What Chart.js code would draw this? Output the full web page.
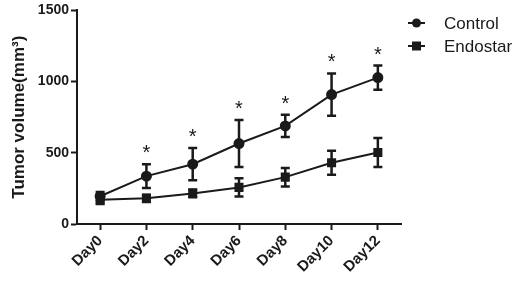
<!DOCTYPE html>
<html lang="en">
<head>
    <meta charset="UTF-8">
    <title>Tumor volume</title>
    <script src="https://cdn.jsdelivr.net/npm/chart.js"></script>
    <style>
        html, body { margin: 0; padding: 0; background: #fff; }
        #wrap { width: 517px; height: 283px; }
    </style>
</head>
<body>
    <div id="wrap"><canvas id="tumorChart" width="517" height="283"></canvas></div>

    <script>
        // values
        const days = ["Day0", "Day2", "Day4", "Day6", "Day8", "Day10", "Day12"];
        const controlMean = [195, 336, 420, 565, 689, 909, 1028];
        const controlErr = [30, 84, 113, 165, 78, 148, 85];
        const endostarMean = [170, 180, 215, 257, 329, 430, 502];
        const endostarErr = [30, 25, 27, 64, 65, 85, 102];
        const significant = [false, true, true, true, true, true, true];
        const yTicks = [0, 500, 1000, 1500];

        const ink = "#1a1a1a";
        const fontFam = "'Liberation Sans', Arial, sans-serif";

        // error bars (drawn under the markers) + asterisks
        const errorBars = {
            id: "errorBars",
            beforeDatasetsDraw(chart) {
                const ctx = chart.ctx;
                const y = chart.scales.y;
                chart.data.datasets.forEach((ds, i) => {
                    const meta = chart.getDatasetMeta(i);
                    meta.data.forEach((pt, j) => {
                        const m = ds.data[j], e = ds.errors[j];
                        const top = y.getPixelForValue(m + e);
                        const bot = y.getPixelForValue(m - e);
                        ctx.save();
                        ctx.strokeStyle = ink;
                        ctx.lineWidth = 2.5;
                        ctx.beginPath();
                        ctx.moveTo(pt.x, top); ctx.lineTo(pt.x, bot);
                        ctx.moveTo(pt.x - 4.5, top); ctx.lineTo(pt.x + 4.5, top);
                        ctx.moveTo(pt.x - 4.5, bot); ctx.lineTo(pt.x + 4.5, bot);
                        ctx.stroke();
                        ctx.restore();
                    });
                });
            },
            afterDatasetsDraw(chart) {
                const ctx = chart.ctx;
                const y = chart.scales.y;
                const meta = chart.getDatasetMeta(0);
                ctx.save();
                ctx.fillStyle = ink;
                ctx.font = "20px " + fontFam;
                ctx.textAlign = "center";
                ctx.textBaseline = "alphabetic";
                significant.forEach((s, j) => {
                    if (!s) return;
                    const top = y.getPixelForValue(controlMean[j] + controlErr[j]);
                    ctx.fillText("*", meta.data[j].x, top - 5);
                });
                ctx.restore();
            }
        };

        // legend with line through the marker, like the original
        const sideLegend = {
            id: "sideLegend",
            afterDraw(chart) {
                const ctx = chart.ctx;
                const items = [
                    { label: "Control", style: "circle", y: 23 },
                    { label: "Endostar", style: "rect", y: 46 }
                ];
                ctx.save();
                items.forEach(it => {
                    ctx.strokeStyle = ink;
                    ctx.fillStyle = ink;
                    ctx.lineWidth = 2;
                    ctx.beginPath();
                    ctx.moveTo(408, it.y); ctx.lineTo(425, it.y);
                    ctx.stroke();
                    if (it.style === "circle") {
                        ctx.beginPath();
                        ctx.arc(416.5, it.y, 4.5, 0, Math.PI * 2);
                        ctx.fill();
                    } else {
                        ctx.fillRect(412, it.y - 4.5, 9, 9);
                    }
                    ctx.font = "17px " + fontFam;
                    ctx.textBaseline = "middle";
                    ctx.fillText(it.label, 444, it.y + 1);
                });
                ctx.restore();
            }
        };

        new Chart(document.getElementById("tumorChart"), {
            type: "line",
            data: {
                labels: days,
                datasets: [
                    {
                        label: "Control",
                        data: controlMean,
                        errors: controlErr,
                        borderColor: ink,
                        backgroundColor: ink,
                        borderWidth: 2,
                        pointStyle: "circle",
                        pointRadius: 4.5,
                        tension: 0
                    },
                    {
                        label: "Endostar",
                        data: endostarMean,
                        errors: endostarErr,
                        borderColor: ink,
                        backgroundColor: ink,
                        borderWidth: 2,
                        pointStyle: "rect",
                        pointRadius: 5,
                        tension: 0
                    }
                ]
            },
            options: {
                responsive: false,
                animation: false,
                layout: { padding: { top: 10, right: 116, left: 0, bottom: 0 } },
                plugins: {
                    legend: { display: false },
                    tooltip: { enabled: false }
                },
                scales: {
                    x: {
                        type: "category",
                        offset: true,
                        afterFit: s => { s.height = 59; },
                        grid: {
                            offset: false,
                            drawOnChartArea: false,
                            color: ink,
                            tickLength: 6,
                            tickWidth: 2
                        },
                        border: { color: ink, width: 2 },
                        ticks: {
                            color: ink,
                            minRotation: 45,
                            maxRotation: 45,
                            padding: 2,
                            font: { family: fontFam, size: 15, weight: "bold" }
                        }
                    },
                    y: {
                        min: 0,
                        max: 1500,
                        afterFit: s => { s.width = 77; },
                        afterBuildTicks: s => { s.ticks = yTicks.map(v => ({ value: v })); },
                        grid: {
                            drawOnChartArea: false,
                            color: ink,
                            tickLength: 6,
                            tickWidth: 2
                        },
                        border: { color: ink, width: 2 },
                        ticks: {
                            color: ink,
                            padding: 2,
                            callback: v => String(v),
                            font: { family: fontFam, size: 14, weight: "bold" }
                        },
                        title: {
                            display: true,
                            text: "Tumor volume(mm³)",
                            color: ink,
                            padding: { top: 9, bottom: 0 },
                            font: { family: fontFam, size: 17, weight: "bold" }
                        }
                    }
                }
            },
            plugins: [errorBars, sideLegend]
        });
    </script>
</body>
</html>
